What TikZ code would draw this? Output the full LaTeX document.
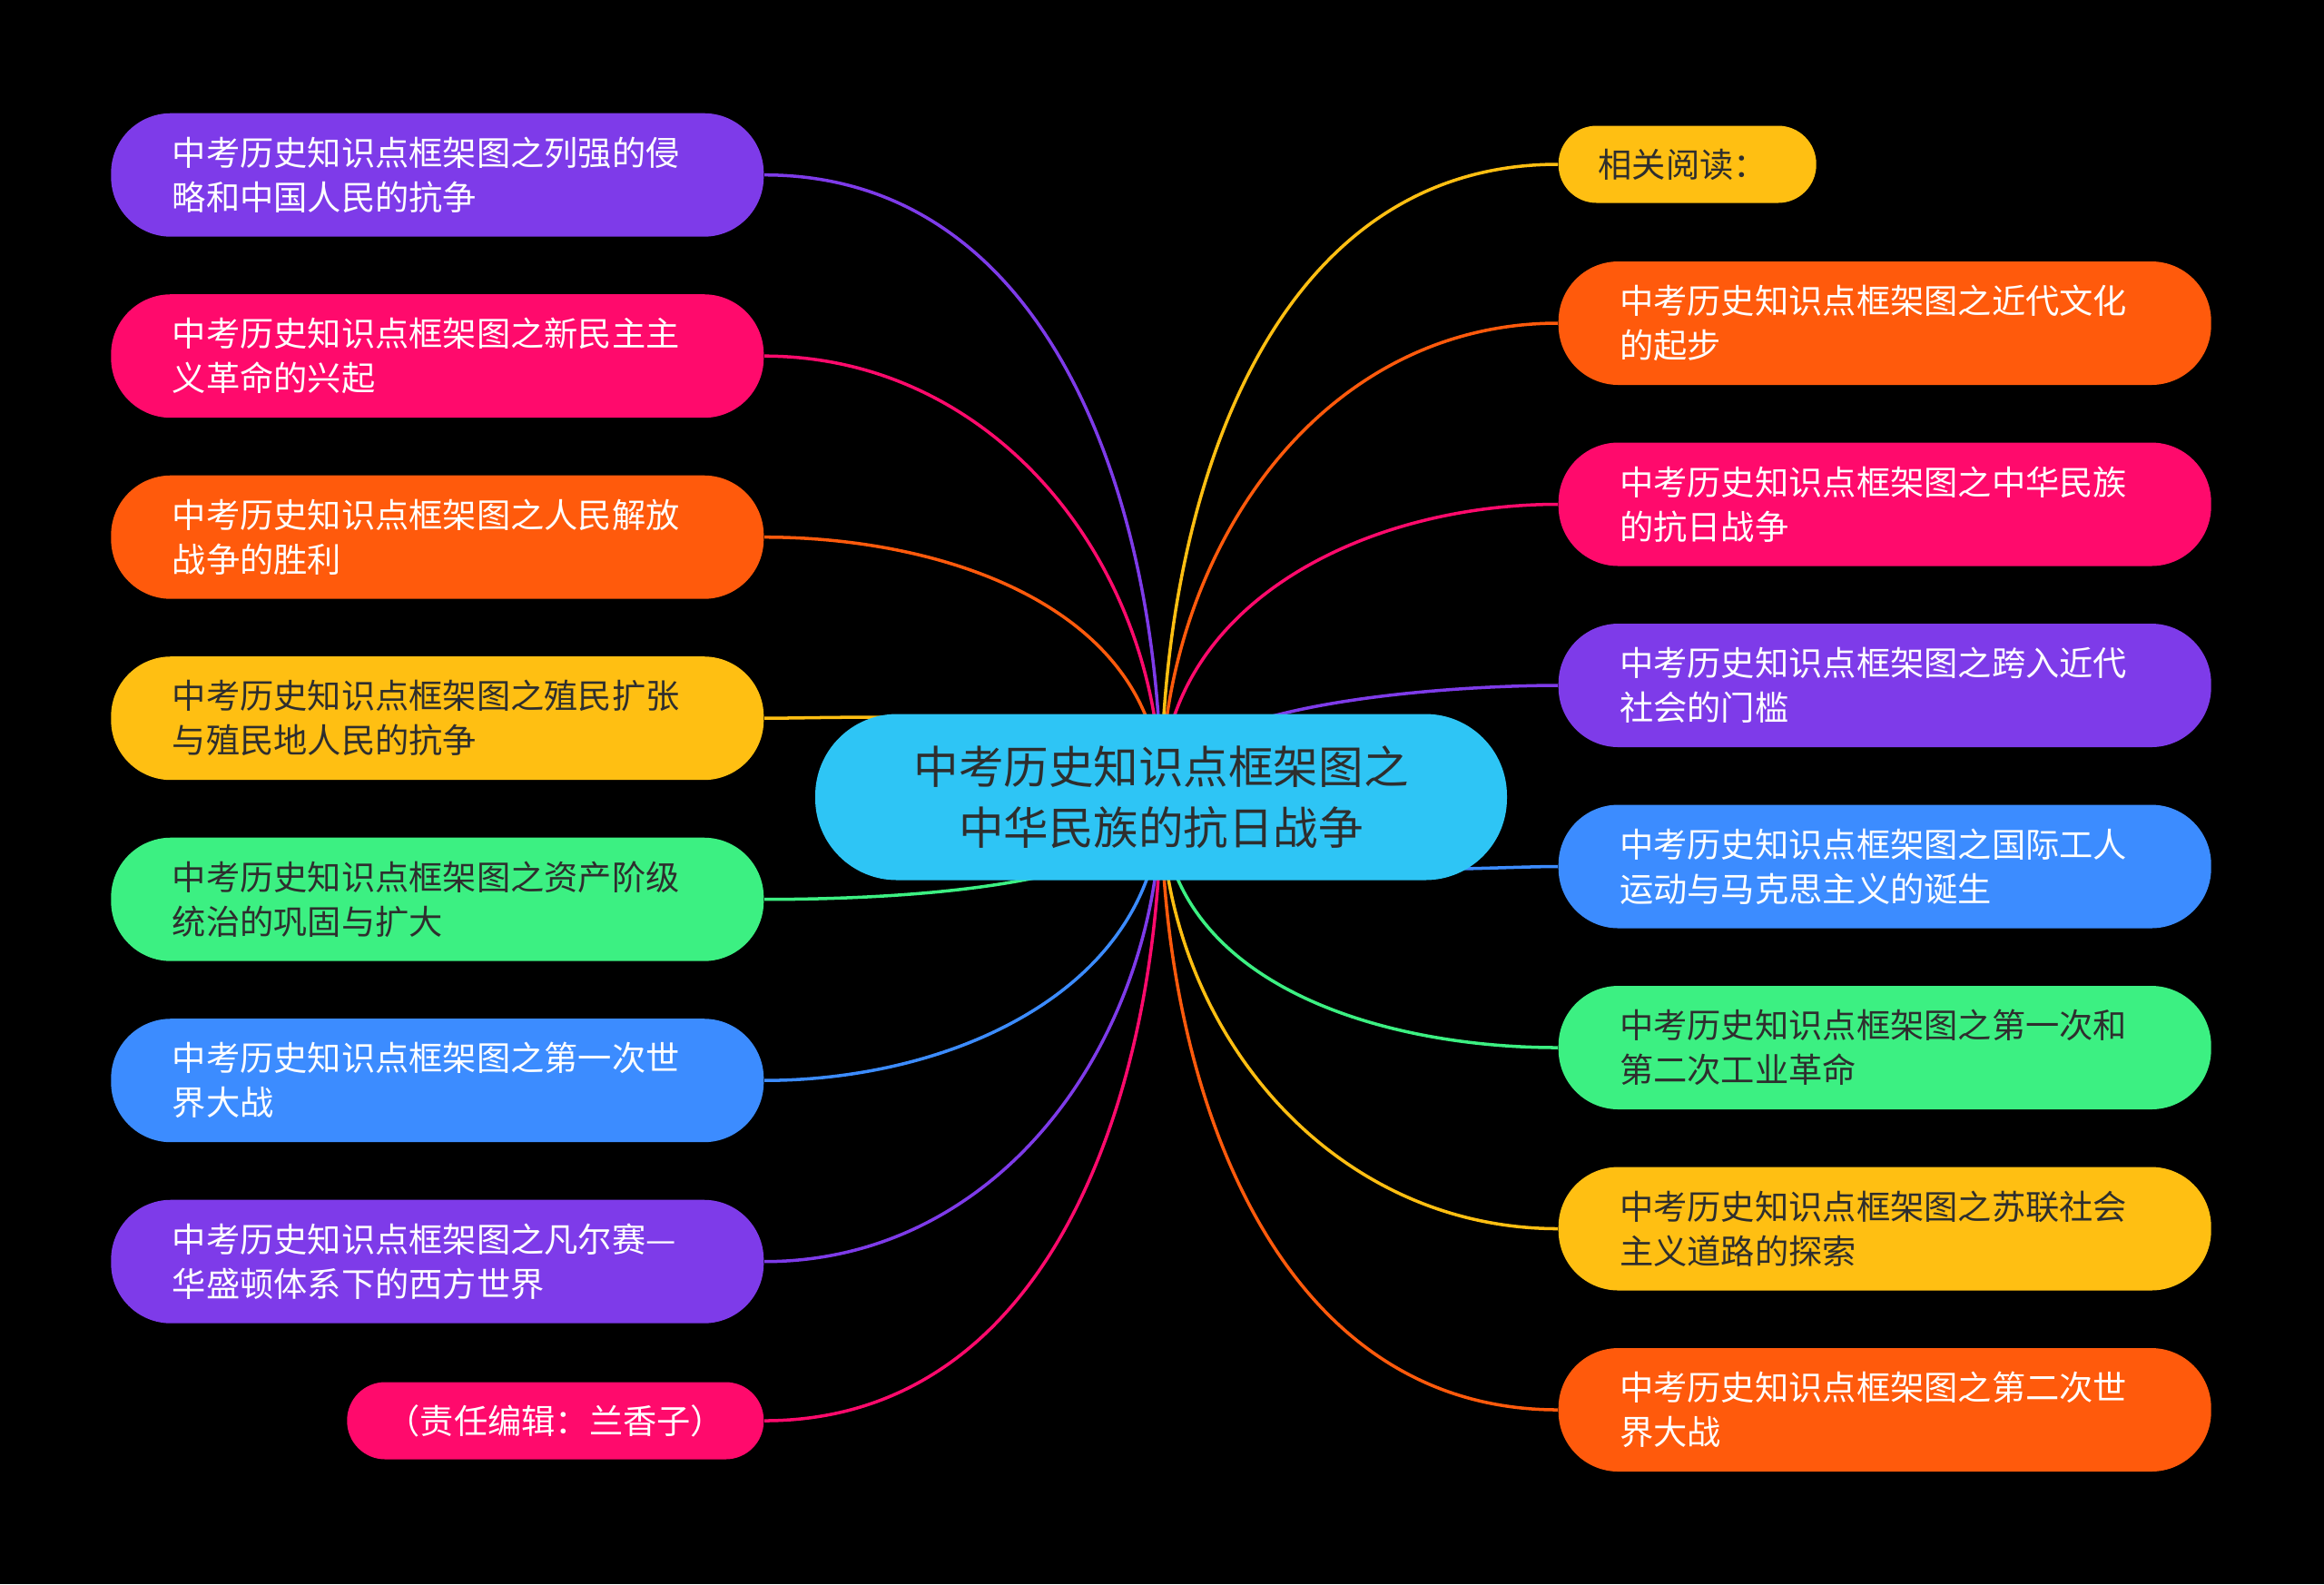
\documentclass[tikz,border=0pt]{standalone}
\usepackage{fontspec}
\newfontfamily\cjk{Noto Sans CJK SC}
\pgfdeclarelayer{background}
\pgfsetlayers{background,main}
\definecolor{mpurple}{HTML}{7E3BE9}
\definecolor{mpink}{HTML}{FF0A6C}
\definecolor{morange}{HTML}{FF5A0C}
\definecolor{myellow}{HTML}{FFBF12}
\definecolor{mgreen}{HTML}{3CF082}
\definecolor{mblue}{HTML}{3C8CFF}
\definecolor{mcyan}{HTML}{2EC5F5}
\definecolor{mdark}{HTML}{2E2E2E}
\begin{document}
\begin{tikzpicture}[
        every node/.style={
            rectangle,inner ysep=2pt,
            font=\cjk\fontsize{10.6}{13.9}\selectfont
        },
        topic/.style={
            rounded corners=0.66cm,minimum height=1.36cm,
            text width=5.84cm,inner xsep=0.675cm,align=left
        },
        tag/.style={
            rounded corners=0.42cm,minimum height=0.85cm,align=center
        },
        root/.style={
            fill=mcyan,text=mdark,rounded corners=0.9cm,
            minimum width=7.62cm,minimum height=1.83cm,align=center,
            font=\cjk\fontsize{14.1}{19}\selectfont
        },
        branch/.style={line width=1pt}
    ]
\useasboundingbox (0,0) rectangle (25.6,-17.45);
% Root
    \node[root] (root) at (12.79,-8.78) {中考历史知识点框架图之\\中华民族的抗日战争};
% Left
\foreach\txt/\col/\tc [count=\i] in {
    中考历史知识点框架图之列强的侵\\略和中国人民的抗争/mpurple/white,
    中考历史知识点框架图之新民主主\\义革命的兴起/mpink/white,
    中考历史知识点框架图之人民解放\\战争的胜利/morange/white,
    中考历史知识点框架图之殖民扩张\\与殖民地人民的抗争/myellow/mdark,
    中考历史知识点框架图之资产阶级\\统治的巩固与扩大/mgreen/mdark,
    中考历史知识点框架图之第一次世\\界大战/mblue/white,
    中考历史知识点框架图之凡尔赛—\\华盛顿体系下的西方世界/mpurple/white}{
    \node[topic,fill=\col,text=\tc,anchor=east] (l\i) at (8.42,{-1.927-1.995*(\i-1)}) {\txt};
}
    \node[tag,fill=mpink,text=white,minimum width=4.59cm,anchor=east] (l8) at (8.42,-15.65) {（责任编辑：兰香子）};
% Right
    \node[tag,fill=myellow,text=mdark,text width=1.96cm,inner xsep=0.44cm,align=left,anchor=west] (r1) at (17.16,-1.81) {相关阅读：};
\foreach\txt/\col/\tc [count=\i from 2] in {
    中考历史知识点框架图之近代文化\\的起步/morange/white,
    中考历史知识点框架图之中华民族\\的抗日战争/mpink/white,
    中考历史知识点框架图之跨入近代\\社会的门槛/mpurple/white,
    中考历史知识点框架图之国际工人\\运动与马克思主义的诞生/mblue/white,
    中考历史知识点框架图之第一次和\\第二次工业革命/mgreen/mdark,
    中考历史知识点框架图之苏联社会\\主义道路的探索/myellow/mdark,
    中考历史知识点框架图之第二次世\\界大战/morange/white}{
    \node[topic,fill=\col,text=\tc,anchor=west] (r\i) at (17.16,{-3.56-1.995*(\i-2)}) {\txt};
}
% Branches
\begin{pgfonlayer}{background}
    \fill[black] (0,0) rectangle (25.6,-17.45);
\foreach\i/\col/\o/\l in {1/mpurple/90/1,2/mpink/90/1,3/morange/90/1,4/myellow/90/0.6,
    5/mgreen/-90/0.6,6/mblue/-90/1,7/mpurple/-90/1,8/mpink/-90/1}{
    \draw[branch,\col] (root.center) to[out=\o,in=0,looseness=\l] (l\i.east);
}
\foreach\i/\col/\o/\l in {1/myellow/90/1,2/morange/90/1,3/mpink/90/1,4/mpurple/90/0.6,
    5/mblue/-90/0.6,6/mgreen/-90/1,7/myellow/-90/1,8/morange/-90/1}{
    \draw[branch,\col] (root.center) to[out=\o,in=180,looseness=\l] (r\i.west);
}
\end{pgfonlayer}
\end{tikzpicture}
\end{document}
